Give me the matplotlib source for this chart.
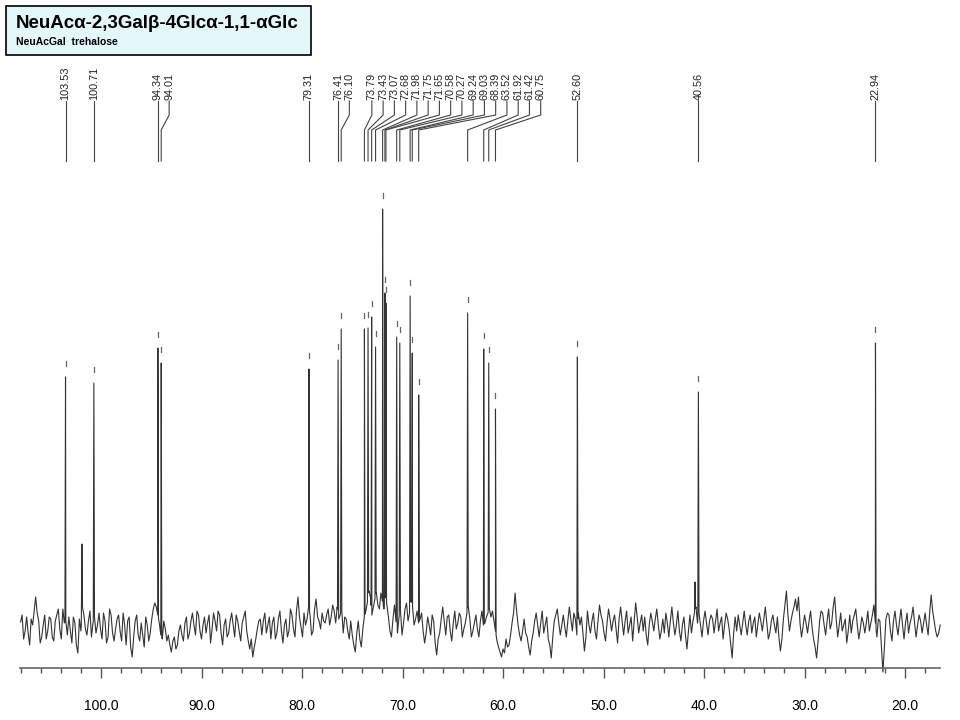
import math
import numpy as np
import matplotlib
matplotlib.use('Agg')
import matplotlib.pyplot as plt
from matplotlib.patches import Rectangle
from matplotlib.ticker import MultipleLocator, FormatStrFormatter

plt.rcParams['font.family'] = ['Liberation Sans', 'DejaVu Sans']

# labelled peaks (ppm) and their heights above the baseline
peak_ppm = [103.53, 100.71, 94.34, 94.01, 79.31, 76.41, 76.10, 73.79, 73.43,
            73.07, 72.68, 71.98, 71.75, 71.65, 70.58, 70.27, 69.24, 69.03,
            68.39, 63.52, 61.92, 61.42, 60.75, 52.60, 40.56, 22.94]
peak_height = [250, 244, 279, 264, 258, 267, 298, 298, 299,
               310, 280, 418, 334, 324, 290, 284, 331, 274,
               232, 314, 278, 264, 218, 270, 235, 284]

# small unlabelled signals
extra_ppm = [101.9, 40.9]
extra_height = [83, 45]

# baseline noise, 0.3 ppm steps from 108.0 down to 16.5
noise = [
    5, -12, 10, -18, 2, 30, 6, -10, 12, -4,
    8, -14, 12, -2, 18, 6, 10, -16, 4, -26,
    -4, 12, -8, 16, 4, -6, 14, -12, 6, -10,
    12, -14, 8, -4, 14, -18, 10, -30, 6, -8,
    4, -20, 2, -6, 18, 20, 4, -12, -2, -8,
    -25, -10, -18, 2, -14, 10, -6, 14, -8, 12,
    -12, 10, 4, -16, 14, -4, 12, -18, 8, -6,
    14, -10, 6, -14, 10, -4, -22, -30, -12, 6,
    -8, 14, 2, -12, 10, -6, 16, -16, 8, -4,
    12, -10, 30, 0, 14, 8, 12, -4, 28, 6,
    14, 4, 18, 10, 16, 20, 12, -6, 8, -12,
    -8, -25, 6, -20, 10, 24, 30, 20, 34, 18,
    26, 30, 10, -10, 22, -6, 16, 4, 24, 14,
    20, 8, 4, 14, -16, 10, -8, 6, -28, -6,
    20, -8, 12, -14, 16, 4, 10, -2, 14, 8,
    -4, 12, -10, 16, 4, 14, 10, 6, -14, -25,
    -22, -12, -18, 4, 34, 2, -14, 8, -10, -28,
    -6, 14, -10, 16, 2, -12, -31, 6, 18, -8,
    12, -10, 20, -4, 8, 14, 10, -24, 16, -6,
    14, -12, 22, 6, -14, 18, -4, 12, -16, 20,
    -8, 16, 2, -14, 24, -6, 12, 10, -18, 14,
    -4, 18, -12, 8, 14, -10, 20, -8, 16, -14,
    10, -22, 12, 6, 20, 14, -10, 16, -8, 12,
    -6, 18, 4, -12, 14, -2, -31, 10, 12, -8,
    16, -8, 12, 4, -10, 14, -4, 20, -12, 6,
    2, 10, -24, 8, 36, -4, 14, 28, 30, -10,
    12, -6, 16, -12, -31, 6, 14, -8, 18, 4,
    30, -10, 14, 2, -16, 12, 6, 18, -12, 10,
    -6, 16, 4, 22, -10, 6, -45, 8, 12, -14,
    16, -8, 18, -12, 14, 4, 20, -10, 12, -6,
    14, -8, 32, 6, -10, 2,
]
# noise values half way between the samples above
noise_mid = [
    12, -4, -6, 8, 16, 14, -16, 2, -12, 10,
    -10, 6, 18, -12, 4, -8, -4, 10, -18, 8,
    20, -2, 6, -10, 10, 2, -2, 14, -16, 18,
    -6, -2, 12, -14, 2, 6, -20, -10, 12, -14,
    -8, 10, -14, 8, 24, 12, -8, 6, -14, -18,
    -14, -22, -4, -8, 4, -12, 6, 2, 16, -4,
    2, -6, 12, -2, 6, 16, -6, 2, -10, 6,
    2, 12, -4, 4, 16, -14, -12, -20, -2, 8,
    6, -6, 10, 4, -12, 8, -4, 2, -10, 18,
    -2, 16, 10, -10, 2, 20, -8, 18, 10, -2,
    6, 12, 2, 22, 4, 8, 18, 10, -4, 6,
    -18, -6, -12, -2, 16, 36, 12, 28, 22, 34,
    18, 22, -4, 8, 6, 10, -8, 18, 6, 28,
    2, 16, 8, -4, -6, 2, 12, -16, -12, 8,
    6, 10, -4, 4, -2, 14, -10, 4, 20, -10,
    4, -2, 6, 2, 10, 18, 16, -4, -20, -30,
    -26, -20, -8, 14, 16, -8, -4, -6, -20, -14,
    6, 2, 4, -6, 10, -18, -10, 12, 4, 2,
    0, 6, 8, 14, -8, 2, -6, -10, 2, 6,
    -4, 6, 12, -6, 4, 8, 6, -2, 8, 6,
    6, -6, 10, 6, 10, 4, -4, -8, 2, 6,
    8, 2, -4, -6, 4, 6, 4, 2, -4, 2,
    -8, -4, -6, 14, 4, 2, 6, 4, 6, 8,
    6, -4, 10, 2, 8, -16, -6, -4, 2, 4,
    2, 6, -6, 10, 2, 6, 8, 4, -6, 12,
    -6, -10, -12, 22, 12, 6, 20, 16, 4, 0,
    4, 6, 0, -20, -14, 16, 2, 6, -2, 20,
    8, 2, -4, 8, -4, -6, 12, 2, -2, 4,
    4, -4, 12, 4, 8, -20, -20, 14, -4, 6,
    2, 6, 2, 4, -6, 10, 4, 2, 6, 4,
    2, 14, 16, -4, -6,
]

base = np.empty(len(noise) + len(noise_mid))
base[0::2] = noise
base[1::2] = noise_mid
base_ppm = np.linspace(108.0, 16.5, len(base))

# build the trace: baseline points plus narrow spikes at every signal
all_ppm = list(peak_ppm) + list(extra_ppm)
all_h = list(peak_height) + list(extra_height)
xs = list(base_ppm)
ys = list(base)
for p, h in zip(all_ppm, all_h):
    for dx in (0.06, -0.06):
        xs.append(p + dx)
        ys.append(float(np.interp(-(p + dx), -base_ppm, base)))
    xs.append(p)
    ys.append(h)
order = np.argsort(xs)[::-1]
xs = np.array(xs)[order]
ys = np.array(ys)[order]

fig = plt.figure(figsize=(9.6, 7.2), dpi=100)
ax = fig.add_axes([20 / 960, 52 / 720, 920 / 960, 608 / 720])
ax.plot(xs, ys, color='#333333', lw=0.8, clip_on=False)

# little marks above each labelled peak
for p, h in zip(peak_ppm, peak_height):
    ax.plot([p, p], [h + 11, h + 16], color='#666666', lw=0.9)

# peak labels: snapped to slots where they crowd
slot = 1.12
label_pos = []
anchor = None
for p in peak_ppm:
    if not label_pos or label_pos[-1] - p > 2 * slot:
        anchor = p
        label_pos.append(p)
    else:
        k_prev = round((anchor - label_pos[-1]) / slot)
        k = max(math.ceil((anchor - p) / slot - 1e-9), k_prev + 1)
        label_pos.append(anchor - k * slot)

for p, lp in zip(peak_ppm, label_pos):
    if abs(lp - p) < 1e-6:
        ax.plot([p, p], [526, 466], color='#444444', lw=0.8)
    else:
        ax.plot([lp, lp, p, p], [526, 512, 497, 466], color='#444444', lw=0.8)
    ax.text(lp, 527, f'{p:.2f}', rotation=90, ha='center', va='bottom',
            fontsize=7.8, color='#222222')

ax.set_xlim(108.06, 16.52)
ax.set_ylim(-41, 567)
for s in ('top', 'left', 'right'):
    ax.spines[s].set_visible(False)
ax.spines['bottom'].set_color('#666666')
ax.spines['bottom'].set_linewidth(1.2)
ax.set_yticks([])
ax.xaxis.set_major_locator(MultipleLocator(10))
ax.xaxis.set_minor_locator(MultipleLocator(2))
ax.xaxis.set_major_formatter(FormatStrFormatter('%.1f'))
ax.tick_params(axis='x', which='major', length=7.2, width=1, color='#555555',
               pad=15, labelsize=10)
ax.tick_params(axis='x', which='minor', length=3.6, width=1, color='#555555')

# title box
fig.patches.append(Rectangle((6 / 960, 1 - 55 / 720), 305 / 960, 49 / 720,
                             transform=fig.transFigure, facecolor='#E4F7FB',
                             edgecolor='black', lw=1.2))
fig.text(16 / 960, 1 - 28 / 720, 'NeuAcα-2,3Galβ-4Glcα-1,1-αGlc',
         fontsize=13.5, fontweight='bold', va='baseline', ha='left')
fig.text(16 / 960, 1 - 45 / 720, 'NeuAcGal  trehalose',
         fontsize=7.5, fontweight='bold', va='baseline', ha='left')

fig.savefig('out.png', dpi=100)
